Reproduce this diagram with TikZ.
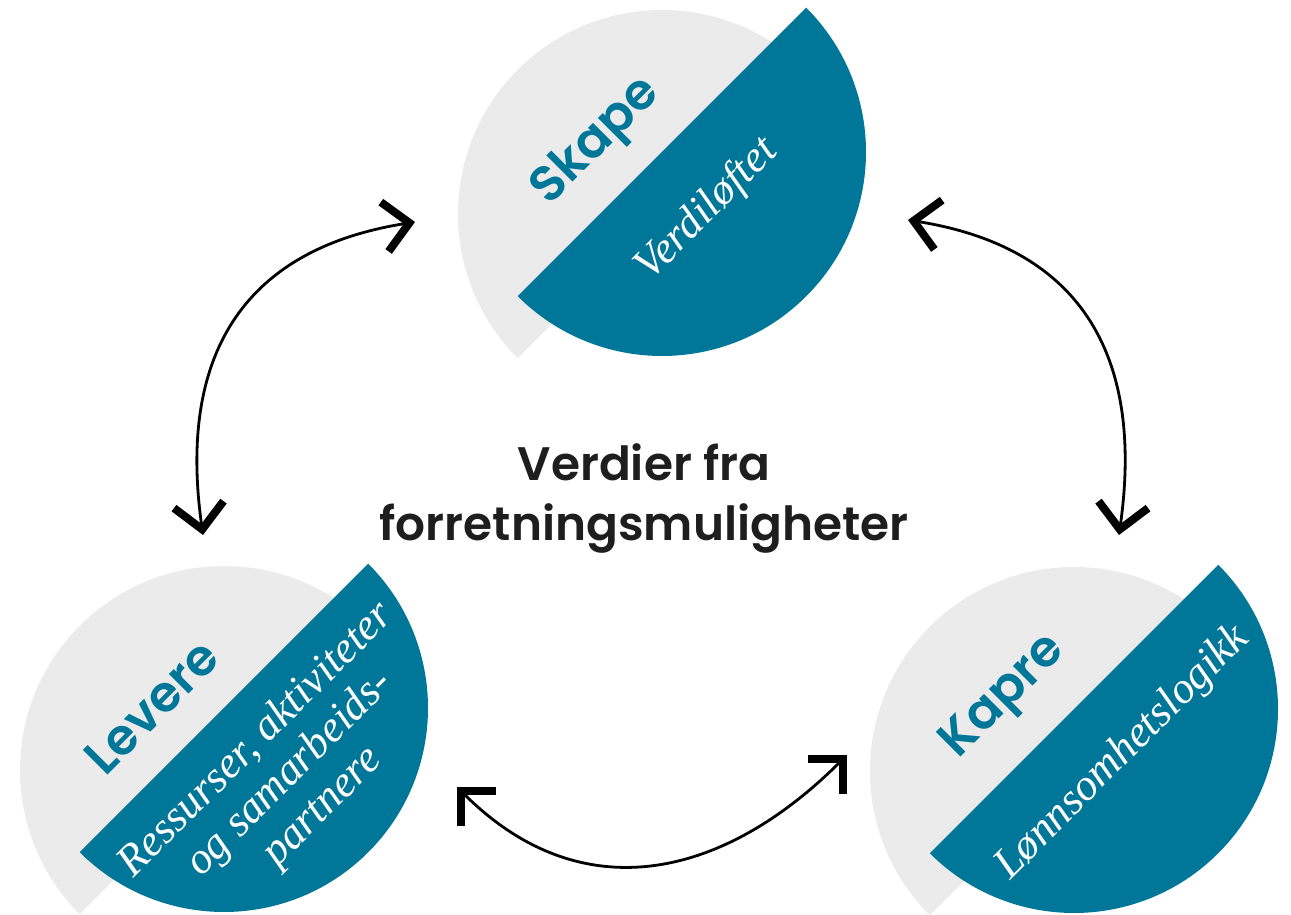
\documentclass[tikz,border=0pt]{standalone}
\usepackage{fontspec}
\newfontfamily\headfont{Poppins}[BoldFont={Poppins SemiBold}]
\newfontfamily\bodyfont{Liberation Serif}
\usetikzlibrary{arrows.meta}

\definecolor{petrol}{RGB}{0,119,152}
\definecolor{lightgrey}{RGB}{235,235,235}
\definecolor{ink}{RGB}{30,30,30}

\tikzset{
    title/.style={font=\headfont\bfseries\fontsize{25}{30}\selectfont, text=petrol, rotate=45, inner sep=0pt},
    sub/.style={font=\bodyfont\itshape\fontsize{22}{23.5}\selectfont, text=white, rotate=45, align=center, inner sep=0pt},
    cycle arrow/.style={line width=1.4pt, {Straight Barb[length=12.5pt,width=25pt,line width=4pt]}-{Straight Barb[length=12.5pt,width=25pt,line width=4pt]}},
}

\begin{document}
\begin{tikzpicture}[x=0.5pt, y=0.5pt]
    \useasboundingbox (0,0) rectangle (1291,915);
    % split discs: grey half below, teal half lifted
    \foreach \cx/\cy in {662/763, 224/207, 1074/206} {
        \fill[lightgrey] (\cx,\cy-62) ++(45:204) arc[start angle=45, end angle=225, radius=204] -- cycle;
        \fill[petrol] (\cx,\cy) ++(225:204) arc[start angle=225, end angle=405, radius=204] -- cycle;
    }
    \node[title] (skape) at (597,773) {Skape};
    \node[sub] (verdi) at (707,705) {Verdiløftet};
    \node[title] (levere) at (152,208) {Levere};
    \node[sub] (ressurs) at (290,141) {Ressurser, aktiviteter\\og samarbeids-\\partnere};
    \node[title] (kapre) at (1005,217) {Kapre};
    \node[sub] (lonn) at (1123,162) {Lønnsomhetslogikk};
    \node[font=\headfont\bfseries\fontsize{23.5}{30}\selectfont, text=ink, align=center] (midt) at (644,417) {Verdier fra\\forretningsmuligheter};
    % arrows between the discs
    \coordinate (a1) at (415,693);
    \coordinate (a2) at (203,380);
    \coordinate (b1) at (908,695);
    \coordinate (b2) at (1119,380);
    \coordinate (c1) at (457,128);
    \coordinate (c2) at (847,160);
    \draw[cycle arrow] (a2) to[out=98, in=189, looseness=1.2] (a1);
    \draw[cycle arrow] (b1) to[out=-9, in=82, looseness=1.2] (b2);
    \draw[cycle arrow] (c1) to[out=-45, in=225, looseness=1.15] (c2);
\end{tikzpicture}
\end{document}
